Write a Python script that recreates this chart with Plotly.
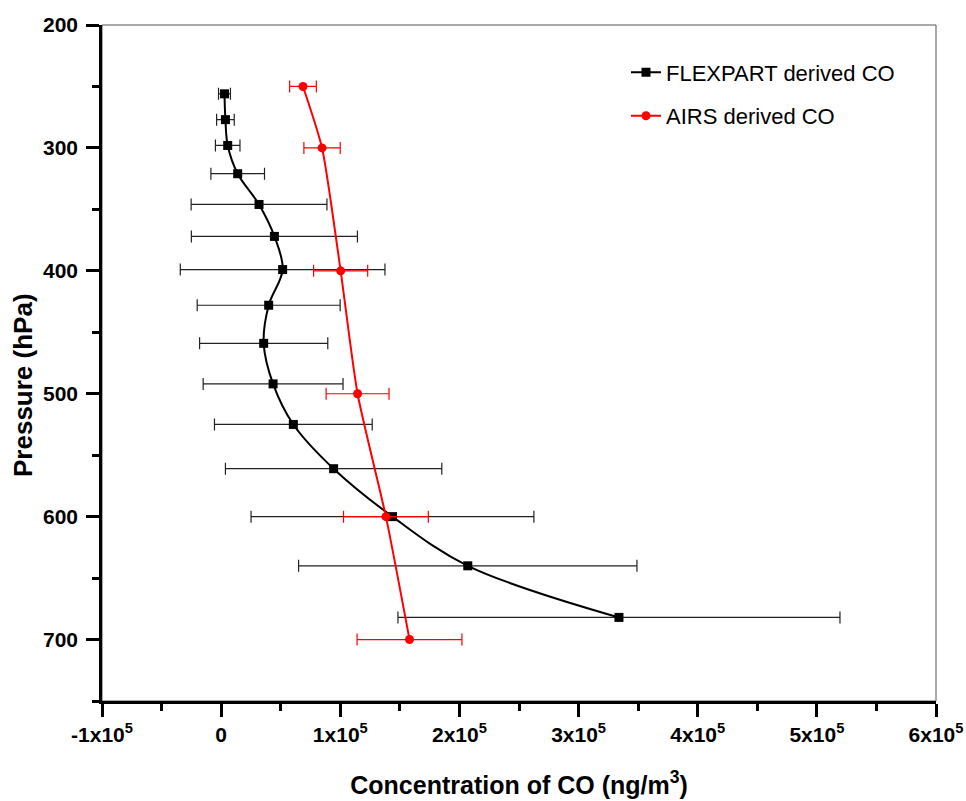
import plotly.graph_objects as go

# FLEXPART derived CO
flex_p = [256, 277, 298, 321, 346, 372, 399, 428, 459, 492, 525, 561, 600, 640, 682]
flex_co = [2800, 3600, 5500, 13900, 31800, 44700, 51600, 39900, 35700, 43600, 60600, 94400, 143800, 207000, 333900]
flex_err = [5000, 7400, 10300, 22500, 57000, 69700, 85900, 60000, 53800, 58700, 66200, 90800, 118700, 142000, 185500]

# AIRS derived CO
airs_p = [250, 300, 400, 500, 600, 700]
airs_co = [68700, 84700, 100300, 114500, 138300, 158100]
airs_err = [11200, 15250, 22700, 26400, 35600, 44000]

x_tickvals = [-100000, 0, 100000, 200000, 300000, 400000, 500000, 600000]
x_ticktext = ["-1x10<sup>5</sup>", "0", "1x10<sup>5</sup>", "2x10<sup>5</sup>", "3x10<sup>5</sup>",
              "4x10<sup>5</sup>", "5x10<sup>5</sup>", "6x10<sup>5</sup>"]
y_tickvals = [200, 300, 400, 500, 600, 700]

font_family = "Liberation Sans, Arial, sans-serif"

fig = go.Figure()
fig.add_trace(go.Scatter(
    x=flex_co, y=flex_p, mode="lines+markers", name="FLEXPART derived CO",
    legendgroup="flex",
    line=dict(color="black", width=2, shape="spline", smoothing=1),
    marker=dict(symbol="square", size=9, color="black"),
    error_x=dict(type="data", array=flex_err, color="#222222", thickness=1.2, width=6),
))
fig.add_trace(go.Scatter(
    x=airs_co, y=airs_p, mode="lines+markers", name="AIRS derived CO",
    legendgroup="airs",
    line=dict(color="red", width=2, shape="spline", smoothing=0.6),
    marker=dict(symbol="circle", size=9, color="red"),
    error_x=dict(type="data", array=airs_err, color="red", thickness=1.2, width=6),
))

fig.update_layout(
    width=966, height=801,
    margin=dict(l=102, r=30, t=25, b=100),
    paper_bgcolor="white", plot_bgcolor="white",
    font=dict(family=font_family, color="black"),
    showlegend=True,
    legend=dict(x=0.6283, y=0.961, xanchor="left", yanchor="top",
                font=dict(size=22, family=font_family), bgcolor="rgba(0,0,0,0)",
                tracegroupgap=12),
    xaxis=dict(
        range=[-100000, 600000], tickvals=x_tickvals, ticktext=x_ticktext,
        automargin=False,
        showgrid=False, zeroline=False, showline=True, linecolor="black", linewidth=2.5,
        ticks="outside", ticklen=13, tickwidth=2.5, tickcolor="black",
        minor=dict(ticks="outside", ticklen=7, tickwidth=2.5, tickcolor="black", dtick=50000, tick0=0),
        tickfont=dict(size=21, family=font_family, weight="bold"),
        title=dict(text="<b>Concentration of CO (ng/m<sup>3</sup>)</b>", font=dict(size=25, family=font_family), standoff=32),
    ),
    yaxis=dict(
        range=[750, 200], tickvals=y_tickvals,
        automargin=False,
        showgrid=False, zeroline=False, showline=True, linecolor="black", linewidth=2.5,
        ticks="outside", ticklen=13, tickwidth=2.5, tickcolor="black",
        minor=dict(ticks="outside", ticklen=7, tickwidth=2.5, tickcolor="black", dtick=50, tick0=200),
        tickfont=dict(size=21, family=font_family, weight="bold"),
        ticklabelstandoff=4,
    ),
    annotations=[dict(text="<b>Pressure (hPa)</b>", xref="paper", yref="paper",
                      x=-0.0947, y=0.4675, xanchor="center", yanchor="middle",
                      textangle=-90, showarrow=False,
                      font=dict(size=26, family=font_family, color="black"))],
    shapes=[dict(type="rect", xref="paper", yref="paper", x0=0, y0=0, x1=1, y1=1,
                 line=dict(color="#555555", width=1), layer="below")],
)

fig.write_html("out.html", config={"displayModeBar": False},
               post_script="document.body.style.margin='0';document.body.style.overflow='hidden';")
